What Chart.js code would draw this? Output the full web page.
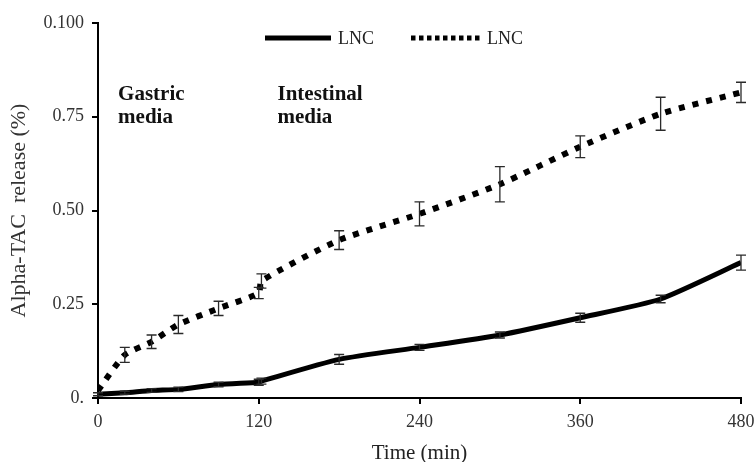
<!DOCTYPE html>
<html>
<head>
<meta charset="utf-8">
<script src="https://cdn.jsdelivr.net/npm/chart.js@4"></script>
<style>
html,body{margin:0;padding:0;background:#fff;}
#wrap{width:756px;height:462px;position:relative;}
</style>
</head>
<body>
<div id="wrap"><canvas id="c" width="756" height="462"></canvas></div>
<script>
// ---- data ----
const times      = [0, 20, 40, 60, 90, 120, 122, 180, 240, 300, 360, 420, 480];
const solidVals  = [0.010, 0.014, 0.020, 0.023, 0.036, 0.042, 0.045, 0.103, 0.135, 0.168, 0.214, 0.264, 0.361];
const solidErr   = [0.004, 0.004, 0.005, 0.006, 0.006, 0.008, 0.008, 0.013, 0.008, 0.008, 0.012, 0.010, 0.020];
const dottedVals = [0.020, 0.115, 0.150, 0.196, 0.239, 0.280, 0.312, 0.421, 0.491, 0.570, 0.670, 0.758, 0.815];
const dottedErr  = [0.000, 0.020, 0.018, 0.024, 0.019, 0.015, 0.019, 0.025, 0.032, 0.047, 0.029, 0.044, 0.027];
const seriesNames = ["LNC", "LNC"];
const xTickValues = [0, 120, 240, 360, 480];
const yTickValues = [0, 0.25, 0.5, 0.75, 1.0];
const yTickLabels = ["0.", "0.25", "0.50", "0.75", "0.100"];
const xTitle = "Time (min)";
const yTitle = "Alpha-TAC  release (%)";
const notes = [
  {x: 15,  y: 0.808, lines: ["Gastric", "media"]},
  {x: 134, y: 0.808, lines: ["Intestinal", "media"]}
];

const serif = "'Liberation Serif', 'DejaVu Serif', serif";

function pts(vals) { return times.map((t, i) => ({x: t, y: vals[i]})); }

const errorBars = {
  id: 'errorBars',
  afterDatasetsDraw(chart) {
    const ctx = chart.ctx, xs = chart.scales.x, ys = chart.scales.y;
    const errs = [solidErr, dottedErr];
    ctx.save();
    ctx.strokeStyle = '#2a2a2a';
    ctx.lineWidth = 1.3;
    chart.data.datasets.forEach((ds, di) => {
      ds.data.forEach((p, i) => {
        const e = errs[di][i];
        if (!e) return;
        const px = xs.getPixelForValue(p.x);
        const y1 = ys.getPixelForValue(p.y + e);
        const y2 = ys.getPixelForValue(p.y - e);
        ctx.beginPath();
        ctx.moveTo(px, y1); ctx.lineTo(px, y2);
        ctx.moveTo(px - 5, y1); ctx.lineTo(px + 5, y1);
        ctx.moveTo(px - 5, y2); ctx.lineTo(px + 5, y2);
        ctx.stroke();
      });
    });
    ctx.restore();
  }
};

const extras = {
  id: 'extras',
  afterDraw(chart) {
    const ctx = chart.ctx, xs = chart.scales.x, ys = chart.scales.y, ca = chart.chartArea;
    ctx.save();
    // legend
    const ly = ca.top + 15;
    const lx = ca.left + 167;
    ctx.strokeStyle = '#000';
    ctx.lineWidth = 5;
    ctx.setLineDash([]);
    ctx.beginPath(); ctx.moveTo(lx, ly); ctx.lineTo(lx + 66, ly); ctx.stroke();
    ctx.fillStyle = '#222';
    ctx.font = "18px " + serif;
    ctx.textBaseline = 'middle';
    ctx.textAlign = 'left';
    ctx.fillText(seriesNames[0], lx + 73, ly + 1);
    const lx2 = lx + 146;
    ctx.lineWidth = 5;
    ctx.setLineDash([4.5, 3.5]);
    ctx.beginPath(); ctx.moveTo(lx2, ly); ctx.lineTo(lx2 + 70, ly); ctx.stroke();
    ctx.setLineDash([]);
    ctx.fillText(seriesNames[1], lx2 + 76, ly + 1);
    // annotations
    ctx.fillStyle = '#111';
    ctx.font = "bold 21px " + serif;
    notes.forEach(n => {
      const px = xs.getPixelForValue(n.x);
      const py = ys.getPixelForValue(n.y);
      n.lines.forEach((s, k) => ctx.fillText(s, px, py + k * 23));
    });
    ctx.restore();
  }
};

new Chart(document.getElementById('c'), {
  type: 'scatter',
  data: {
    datasets: [
      {
        label: seriesNames[0],
        data: pts(solidVals),
        showLine: true,
        borderColor: '#000',
        backgroundColor: '#000',
        borderWidth: 5,
        pointRadius: 0,
        tension: 0.2,
        order: 2
      },
      {
        label: seriesNames[1],
        data: pts(dottedVals),
        showLine: true,
        borderColor: '#000',
        backgroundColor: '#000',
        borderWidth: 6,
        borderDash: [6, 8],
        borderCapStyle: 'butt',
        pointRadius: 0,
        tension: 0.2,
        order: 1
      }
    ]
  },
  options: {
    responsive: false,
    animation: false,
    devicePixelRatio: 1,
    layout: {padding: {top: 23, right: 15, left: 0, bottom: 0}},
    plugins: {legend: {display: false}, tooltip: {enabled: false}},
    scales: {
      x: {
        type: 'linear', min: 0, max: 480,
        afterBuildTicks(s) { s.ticks = xTickValues.map(v => ({value: v})); },
        afterFit(s) { s.height = 64; s.paddingRight = 0; s.paddingLeft = 0; },
        grid: {display: true, drawOnChartArea: false, drawTicks: true, tickLength: 6, color: '#000', lineWidth: 2},
        border: {display: true, color: '#000', width: 2},
        ticks: {color: '#333', font: {family: serif, size: 18}, padding: 7, maxRotation: 0},
        title: {display: true, text: xTitle, color: '#222', font: {family: serif, size: 21}, padding: {top: 4, bottom: -4}}
      },
      y: {
        type: 'linear', min: 0, max: 1,
        afterBuildTicks(s) { s.ticks = yTickValues.map(v => ({value: v})); },
        afterFit(s) { s.width = 98; },
        grid: {display: true, drawOnChartArea: false, drawTicks: true, tickLength: 6, color: '#000', lineWidth: 2},
        border: {display: true, color: '#000', width: 2},
        ticks: {
          color: '#333', font: {family: serif, size: 18}, padding: 8,
          callback: (v) => { const i = yTickValues.indexOf(v); return i >= 0 ? yTickLabels[i] : ''; }
        },
        title: {display: true, text: yTitle, color: '#333', font: {family: serif, size: 22}, padding: {top: 6, bottom: 0}}
      }
    }
  },
  plugins: [errorBars, extras]
});
</script>
</body>
</html>
